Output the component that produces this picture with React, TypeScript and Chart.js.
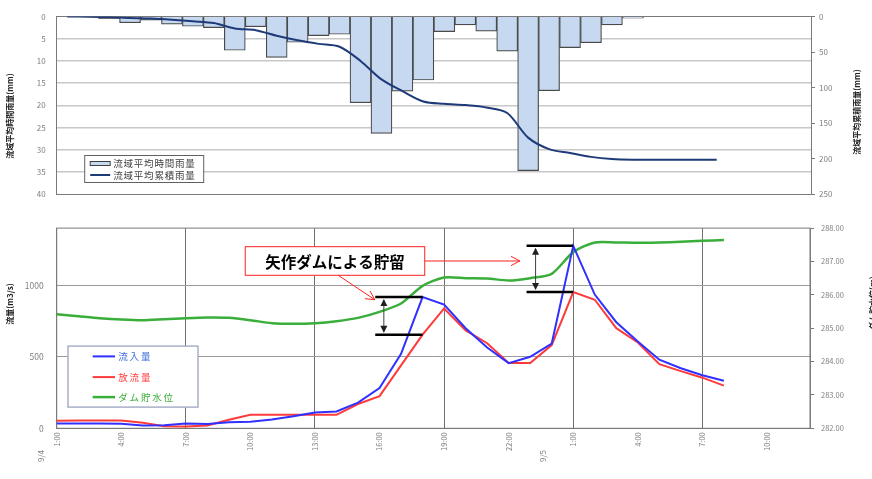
import React, { useEffect, useRef } from "react";
import { Chart, registerables } from "chart.js";

Chart.register(...registerables);

const FONT = '"Noto Sans CJK JP", "Noto Sans", sans-serif';

// ---------- data ----------
const hourLabels: string[] = [
  "1:00", "2:00", "3:00", "4:00", "5:00", "6:00", "7:00", "8:00", "9:00", "10:00",
  "11:00", "12:00", "13:00", "14:00", "15:00", "16:00", "17:00", "18:00", "19:00", "20:00",
  "21:00", "22:00", "23:00", "0:00", "1:00", "2:00", "3:00", "4:00", "5:00", "6:00",
  "7:00", "8:00", "9:00", "10:00", "11:00", "12:00",
];

const dateLabels: string[] = ["9/4", "9/5"];
const dateStartIndex: number[] = [0, 23];

// 流域平均時間雨量 (mm)
const hourlyRain: (number | null)[] = [
  0.1, 0.1, 0.5, 1.4, 0.8, 1.7, 2.2, 2.5, 7.6, 2.3,
  9.2, 5.8, 4.3, 4.0, 19.4, 26.3, 16.8, 14.3, 3.4, 1.9,
  3.3, 7.8, 34.7, 16.7, 7.0, 5.9, 1.9, 0.4, 0.1, null,
  null, null, null, null, null, null,
];

// 流域平均累積雨量 (mm)
const cumulativeRain: (number | null)[] = [
  0.1, 0.2, 0.7, 2.1, 2.9, 4.6, 6.8, 9.3, 16.9, 19.2,
  27.0, 33.5, 38.5, 42.5, 62.5, 88.5, 105.0, 119.5, 122.8, 124.6,
  127.9, 135.7, 170.4, 186.5, 192.0, 197.5, 200.5, 201.5, 201.5, 201.5,
  201.5, 201.5, null, null, null, null,
];

// 流入量 (m3/s)
const inflow: (number | null)[] = [
  34, 34, 34, 32, 20, 22, 34, 30, 42, 45,
  62, 85, 110, 118, 180, 281, 521, 918, 865, 700,
  565, 456, 500, 593, 1276, 935, 742, 607, 480, 420,
  371, 332, null, null, null, null,
];

// 放流量 (m3/s)
const outflow: (number | null)[] = [
  52, 54, 55, 55, 38, 15, 12, 20, 60, 94,
  94, 94, 94, 94, 170, 225, 440, 655, 838, 685,
  595, 456, 456, 582, 953, 899, 700, 600, 449, 400,
  354, 298, null, null, null, null,
];

// ダム貯水位 (m)
const damLevel: (number | null)[] = [
  285.42, 285.36, 285.30, 285.26, 285.24, 285.27, 285.30, 285.32, 285.31, 285.24,
  285.15, 285.13, 285.15, 285.21, 285.31, 285.49, 285.74, 286.27, 286.52, 286.50,
  286.49, 286.43, 286.50, 286.63, 287.28, 287.57, 287.57, 287.56, 287.57, 287.59,
  287.62, 287.64, null, null, null, null,
];

const flowTicks: number[] = [0, 500, 1000];
const calloutText = "矢作ダムによる貯留";

// ---------- helpers ----------
function vText(ctx: CanvasRenderingContext2D, text: string, x: number, y: number, font: string, color: string) {
  ctx.save();
  ctx.translate(x, y);
  ctx.rotate(-Math.PI / 2);
  ctx.font = font;
  ctx.fillStyle = color;
  ctx.textAlign = "center";
  ctx.textBaseline = "middle";
  ctx.fillText(text, 0, 0);
  ctx.restore();
}

function openArrow(ctx: CanvasRenderingContext2D, x1: number, y1: number, x2: number, y2: number, color: string) {
  const ang = Math.atan2(y2 - y1, x2 - x1);
  const L = 10;
  const spread = Math.PI / 6.5;
  ctx.save();
  ctx.strokeStyle = color;
  ctx.lineWidth = 1;
  ctx.beginPath();
  ctx.moveTo(x1, y1);
  ctx.lineTo(x2, y2);
  ctx.moveTo(x2 - L * Math.cos(ang - spread), y2 - L * Math.sin(ang - spread));
  ctx.lineTo(x2, y2);
  ctx.lineTo(x2 - L * Math.cos(ang + spread), y2 - L * Math.sin(ang + spread));
  ctx.stroke();
  ctx.restore();
}

function doubleArrow(ctx: CanvasRenderingContext2D, x: number, yTop: number, yBot: number) {
  ctx.save();
  ctx.strokeStyle = "#404040";
  ctx.fillStyle = "#202020";
  ctx.lineWidth = 1;
  ctx.beginPath();
  ctx.moveTo(x, yTop + 3);
  ctx.lineTo(x, yBot - 3);
  ctx.stroke();
  ctx.beginPath();
  ctx.moveTo(x, yTop + 2);
  ctx.lineTo(x - 3.5, yTop + 9);
  ctx.lineTo(x + 3.5, yTop + 9);
  ctx.closePath();
  ctx.fill();
  ctx.beginPath();
  ctx.moveTo(x, yBot - 2);
  ctx.lineTo(x - 3.5, yBot - 9);
  ctx.lineTo(x + 3.5, yBot - 9);
  ctx.closePath();
  ctx.fill();
  ctx.restore();
}

// ---------- top chart ----------
const topDecor = {
  id: "topDecor",
  afterDraw(chart: any) {
    const ctx: CanvasRenderingContext2D = chart.ctx;
    const a = chart.chartArea;
    vText(ctx, "流域平均時間雨量(mm)", 10, 116, "bold 8px " + FONT, "#222");
    vText(ctx, "流域平均累積雨量(mm)", 857, 112, "bold 8px " + FONT, "#222");

    // legend
    const lx = a.left + 27.5;
    const ly = a.top + 138.5;
    const lw = 119;
    const lh = 27;
    ctx.save();
    ctx.fillStyle = "#fff";
    ctx.fillRect(lx, ly, lw, lh);
    ctx.strokeStyle = "#606060";
    ctx.lineWidth = 1;
    ctx.strokeRect(lx + 0.5, ly + 0.5, lw, lh);
    const ds = chart.data.datasets;
    // bar swatch
    ctx.fillStyle = "#c6d9f0";
    ctx.fillRect(lx + 6, ly + 6.5, 20, 4);
    ctx.strokeStyle = "#404040";
    ctx.strokeRect(lx + 6, ly + 6.5, 20, 4);
    // line swatch
    ctx.strokeStyle = "#1f3a78";
    ctx.lineWidth = 2;
    ctx.beginPath();
    ctx.moveTo(lx + 6, ly + 20);
    ctx.lineTo(lx + 26, ly + 20);
    ctx.stroke();
    ctx.font = "9.5px " + FONT;
    ctx.fillStyle = "#404040";
    ctx.textAlign = "left";
    ctx.textBaseline = "middle";
    (ctx as any).letterSpacing = "0.8px";
    ctx.fillText(ds[1].label, lx + 29, ly + 8.5);
    ctx.fillText(ds[0].label, lx + 29, ly + 20);
    ctx.restore();
  },
};

function topConfig(): any {
  return {
    type: "bar",
    data: {
      labels: hourLabels,
      datasets: [
        {
          type: "line",
          label: "流域平均累積雨量",
          data: cumulativeRain,
          yAxisID: "yR",
          borderColor: "#1f3a78",
          borderWidth: 2,
          pointRadius: 0,
          tension: 0.3,
          order: 0,
        },
        {
          type: "bar",
          label: "流域平均時間雨量",
          data: hourlyRain,
          yAxisID: "yL",
          backgroundColor: "#c6d9f0",
          borderColor: "#4a4a4a",
          borderWidth: 1.2,
          barPercentage: 1,
          categoryPercentage: 1,
          order: 1,
        },
      ],
    },
    options: {
      responsive: false,
      animation: false,
      layout: { padding: { top: 16.5, bottom: 10, left: 0, right: 0 } },
      plugins: { legend: { display: false }, tooltip: { enabled: false } },
      scales: {
        x: { display: false, offset: true },
        yL: {
          position: "left",
          reverse: true,
          min: 0,
          max: 40,
          ticks: { stepSize: 5, color: "#808080", font: { size: 8, family: FONT }, padding: 11 },
          grid: {
            drawTicks: false,
            color: (c: any) => (c.tick && (c.tick.value === 0 || c.tick.value === 40) ? "#7a7a7a" : "#c8c8c8"),
            lineWidth: (c: any) => (c.tick && (c.tick.value === 0 || c.tick.value === 40) ? 1 : 1.5),
          },
          border: { color: "#7a7a7a", width: 1 },
          afterFit: (s: any) => {
            s.width = 56.7;
          },
        },
        yR: {
          position: "right",
          reverse: true,
          min: 0,
          max: 250,
          ticks: { stepSize: 50, color: "#808080", font: { size: 8, family: FONT }, padding: 4 },
          grid: { drawOnChartArea: false, drawTicks: true, tickLength: 4, color: "#7a7a7a" },
          border: { color: "#7a7a7a", width: 1 },
          afterFit: (s: any) => {
            s.width = 61;
          },
        },
      },
    },
    plugins: [topDecor],
  };
}

// ---------- bottom chart ----------
const BLUE = "#3030ff";
const RED = "#ff3a3a";
const GREEN = "#3aae3a";

const bottomDecor = {
  id: "bottomDecor",
  beforeDatasetsDraw(chart: any) {
    const ctx: CanvasRenderingContext2D = chart.ctx;
    const a = chart.chartArea;
    ctx.save();
    ctx.strokeStyle = "#7a7a7a";
    ctx.lineWidth = 1;
    ctx.strokeRect(a.left, a.top, a.right - a.left, a.bottom - a.top);
    ctx.restore();
  },
  afterDatasetsDraw(chart: any) {
    const ctx: CanvasRenderingContext2D = chart.ctx;
    const xs = chart.scales.x;
    const ys = chart.scales.yL;

    // brackets: storage at the two inflow peaks
    const brackets = [
      { from: 14.8, at: 17, arrowAt: 15.2 },
      { from: 21.83, at: 24, arrowAt: 22.25 },
    ];
    ctx.save();
    for (const b of brackets) {
      const x1 = xs.getPixelForValue(b.from);
      const x2 = xs.getPixelForValue(b.at);
      const yTop = ys.getPixelForValue(inflow[b.at] as number);
      const yBot = ys.getPixelForValue(outflow[b.at] as number);
      ctx.strokeStyle = "#000";
      ctx.lineWidth = 2.5;
      ctx.beginPath();
      ctx.moveTo(x1, yTop);
      ctx.lineTo(x2, yTop);
      ctx.moveTo(x1, yBot);
      ctx.lineTo(x2, yBot);
      ctx.stroke();
      doubleArrow(ctx, xs.getPixelForValue(b.arrowAt), yTop, yBot);
    }
    ctx.restore();

    // callout box
    const cx = xs.getPixelForValue(12.93);
    const cy = ys.getPixelForValue(1170);
    ctx.save();
    ctx.font = "bold 15.5px " + FONT;
    const tw = ctx.measureText(calloutText).width;
    const bw = tw + 40;
    const bh = 28.6;
    const bx = cx - bw / 2;
    const by = cy - bh / 2;
    ctx.fillStyle = "#fff";
    ctx.fillRect(bx, by, bw, bh);
    ctx.strokeStyle = "#ff2020";
    ctx.lineWidth = 1;
    ctx.strokeRect(bx, by, bw, bh);
    ctx.fillStyle = "#000";
    ctx.textAlign = "center";
    ctx.textBaseline = "middle";
    ctx.fillText(calloutText, cx, cy + 1);
    ctx.restore();

    // arrows from callout
    openArrow(ctx, bx + bw, cy, xs.getPixelForValue(21.52), cy, "#ff2020");
    openArrow(ctx, xs.getPixelForValue(13.08), by + bh, xs.getPixelForValue(14.78), ys.getPixelForValue(899), "#ff2020");
  },
  afterDraw(chart: any) {
    const ctx: CanvasRenderingContext2D = chart.ctx;
    const a = chart.chartArea;
    const xs = chart.scales.x;

    vText(ctx, "流量(m3/s)", 10, 94, "bold 8px " + FONT, "#222");
    vText(ctx, "ダム貯水位(m)", 873, 93, "bold 8px " + FONT, "#222");

    // date labels
    const dateOffsets = [-16, -9];
    dateLabels.forEach((d, i) => {
      const x = xs.getPixelForValue(dateStartIndex[i]) + dateOffsets[i];
      vText(ctx, d, x, 246, "8px " + FONT, "#808080");
    });

    // legend
    const lx = a.left + 11.3;
    const ly = a.top + 118;
    const lw = 130;
    const lh = 61;
    ctx.save();
    ctx.fillStyle = "#fff";
    ctx.fillRect(lx, ly, lw, lh);
    ctx.strokeStyle = "#a8b0c8";
    ctx.lineWidth = 1.5;
    ctx.strokeRect(lx, ly, lw, lh);
    const ds = chart.data.datasets;
    const rows = [10.3, 31, 51];
    const textColors = ["#3a6ad8", "#ff3a3a", "#3aae3a"];
    ds.forEach((d: any, i: number) => {
      const y = ly + rows[i];
      ctx.strokeStyle = d.borderColor;
      ctx.lineWidth = d.borderWidth;
      ctx.beginPath();
      ctx.moveTo(lx + 24.7, y);
      ctx.lineTo(lx + 47, y);
      ctx.stroke();
      ctx.font = "9.5px " + FONT;
      (ctx as any).letterSpacing = "1.8px";
      ctx.fillStyle = textColors[i];
      ctx.textAlign = "left";
      ctx.textBaseline = "middle";
      ctx.fillText(d.label, lx + 50.3, y);
    });
    ctx.restore();
  },
};

function bottomConfig(): any {
  return {
    type: "line",
    data: {
      labels: hourLabels,
      datasets: [
        {
          label: "流入量",
          data: inflow,
          yAxisID: "yL",
          borderColor: BLUE,
          borderWidth: 2,
          pointRadius: 0,
          tension: 0,
        },
        {
          label: "放流量",
          data: outflow,
          yAxisID: "yL",
          borderColor: RED,
          borderWidth: 2,
          pointRadius: 0,
          tension: 0,
        },
        {
          label: "ダム貯水位",
          data: damLevel,
          yAxisID: "yR",
          borderColor: GREEN,
          borderWidth: 2.5,
          pointRadius: 0,
          tension: 0.25,
        },
      ],
    },
    options: {
      responsive: false,
      animation: false,
      layout: { padding: { top: 11, bottom: 0, left: 0, right: 0 } },
      plugins: { legend: { display: false }, tooltip: { enabled: false } },
      scales: {
        x: {
          offset: false,
          ticks: {
            autoSkip: false,
            minRotation: 90,
            maxRotation: 90,
            color: "#808080",
            font: { size: 7.5, family: FONT },
            padding: 4,
            callback: (_v: any, i: number) => (i % 3 === 0 ? hourLabels[i] : ""),
          },
          grid: {
            drawTicks: false,
            color: (c: any) => (c.index % 6 === 0 ? "#707070" : "rgba(0,0,0,0)"),
            lineWidth: 1,
          },
          border: { color: "#7a7a7a", width: 1 },
          afterFit: (s: any) => {
            s.height = 50.7;
          },
        },
        yL: {
          position: "left",
          min: 0,
          max: 1400,
          afterBuildTicks: (s: any) => {
            s.ticks = flowTicks.map((v) => ({ value: v }));
          },
          ticks: {
            color: "#808080",
            font: { size: 8.5, family: FONT },
            padding: 13,
            callback: (v: any) => String(v),
          },
          grid: { drawTicks: false, color: "#9a9a9a", lineWidth: 1 },
          border: { color: "#7a7a7a", width: 1 },
          afterFit: (s: any) => {
            s.width = 56.7;
          },
        },
        yR: {
          position: "right",
          min: 282,
          max: 288,
          ticks: {
            stepSize: 1,
            color: "#808080",
            font: { size: 7.5, family: FONT },
            padding: 7,
            callback: (v: any) => Number(v).toFixed(2),
          },
          grid: { drawOnChartArea: false, drawTicks: true, tickLength: 4, color: "#7a7a7a" },
          border: { color: "#7a7a7a", width: 1 },
          afterFit: (s: any) => {
            s.width = 62;
          },
        },
      },
    },
    plugins: [bottomDecor],
  };
}

export default function App() {
  const topRef = useRef<HTMLCanvasElement>(null);
  const botRef = useRef<HTMLCanvasElement>(null);

  useEffect(() => {
    Chart.defaults.font.family = FONT;
    const top = new Chart(topRef.current as HTMLCanvasElement, topConfig());
    const bot = new Chart(botRef.current as HTMLCanvasElement, bottomConfig());
    return () => {
      top.destroy();
      bot.destroy();
    };
  }, []);

  return (
    <div
      style={{
        position: "fixed",
        left: 0,
        top: 0,
        width: 872,
        height: 479,
        background: "#fff",
        overflow: "hidden",
      }}
    >
      <canvas
        ref={topRef}
        width={872}
        height={210}
        style={{ position: "absolute", left: 0, top: 0, width: 872, height: 210 }}
      />
      <canvas
        ref={botRef}
        width={872}
        height={269}
        style={{ position: "absolute", left: 0, top: 210, width: 872, height: 269 }}
      />
    </div>
  );
}
